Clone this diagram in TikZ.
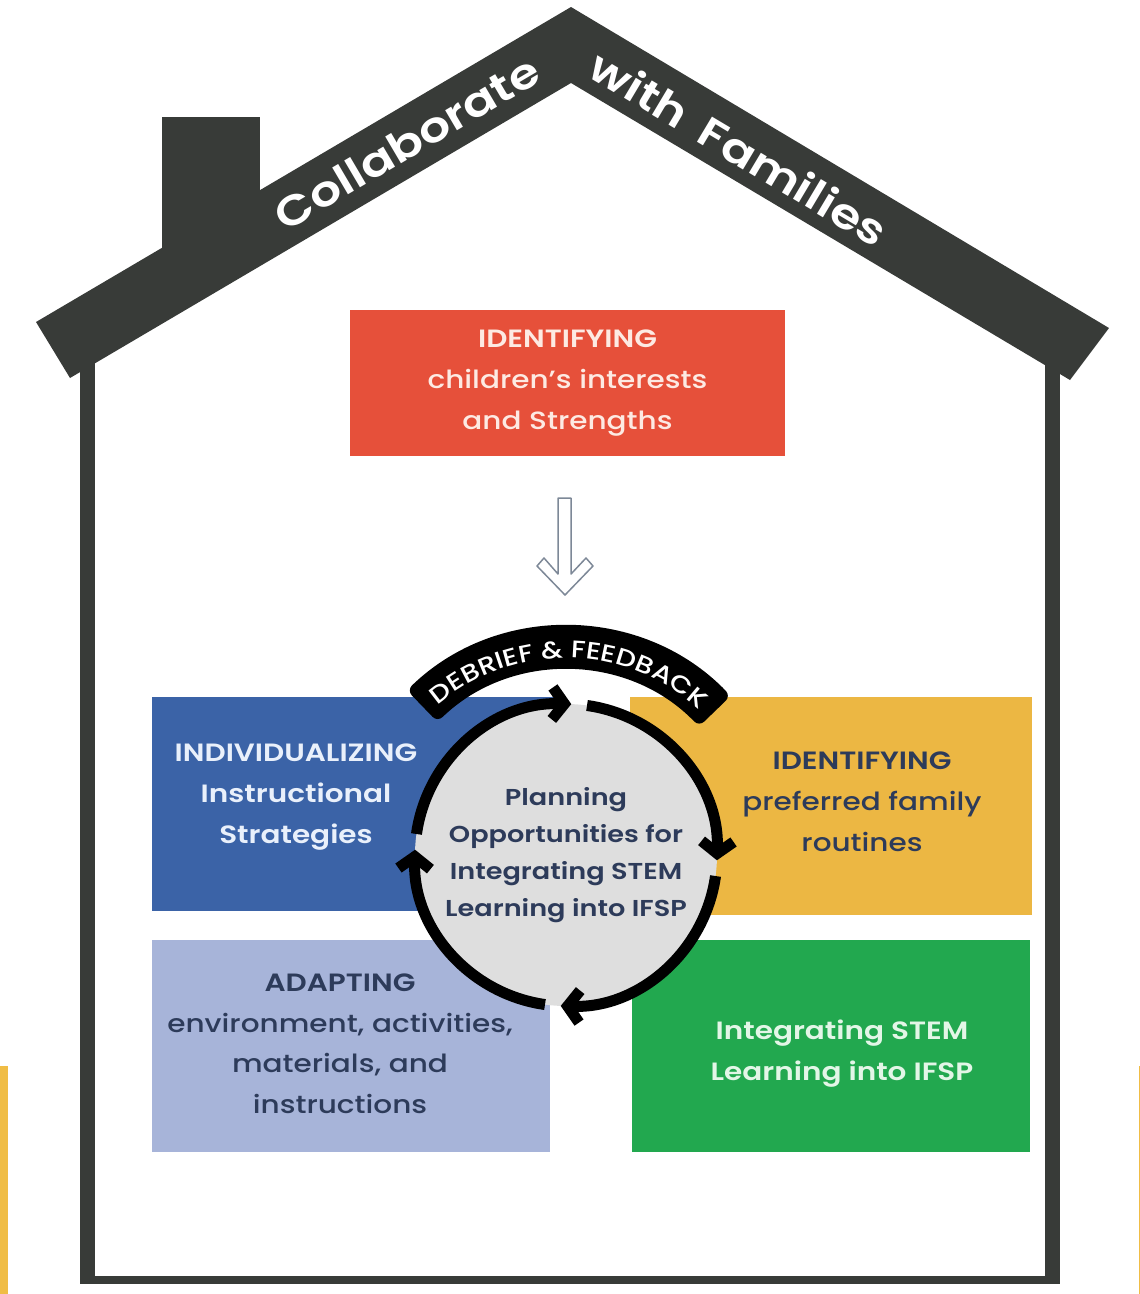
\documentclass[tikz,border=0pt]{standalone}
\usepackage{fontspec}
\setmainfont{Poppins}[UprightFont=* Medium, BoldFont=* SemiBold, FakeStretch=1.18]
\usetikzlibrary{arrows.meta, decorations.text}

\definecolor{roofgray}{HTML}{383B38}
\definecolor{redbox}{HTML}{E6503A}
\definecolor{redtext}{HTML}{FDEAE3}
\definecolor{bluebox}{HTML}{3B63A7}
\definecolor{bluetext}{HTML}{E9F0FB}
\definecolor{yellowbox}{HTML}{ECB743}
\definecolor{lavbox}{HTML}{A7B4D9}
\definecolor{greenbox}{HTML}{22A84F}
\definecolor{greentext}{HTML}{E3F6E7}
\definecolor{navy}{HTML}{2D3B5A}
\definecolor{circgray}{HTML}{DEDEDE}
\definecolor{arrowgray}{HTML}{7D8897}
\definecolor{yellowbar}{HTML}{F0BD45}

\begin{document}
\begin{tikzpicture}[x=1pt, y=-1pt,
		boxtext/.style={align=center, inner sep=0pt, font=\fontsize{25}{41}\selectfont},
		rooftext/.style={text=white, inner sep=0pt, font=\fontsize{42}{42}\selectfont\bfseries},
		ring/.style={line width=11pt, -{Straight Barb[length=12pt, width=32pt]}}]
	\useasboundingbox (0,0) rectangle (1140,1294);
	\fill[yellowbar] (0,1066) rectangle (8,1294);
	\draw[yellowbar, line width=1pt] (1139.5,1066) -- (1139.5,1294);

	\draw[roofgray, line width=15pt] (87,360) -- (87,1283);
	\draw[roofgray, line width=15pt] (1052,360) -- (1052,1283);
	\fill[roofgray] (80,1276) rectangle (1060,1284);

	\fill[roofgray] (162,117) rectangle (260,260);
	\fill[roofgray] (36,322) -- (571,7) -- (1109,328) -- (1070,380) -- (571,83) -- (70,378) -- cycle;
	\node[rooftext, rotate=30.5] (collab) at (407,143) {Collaborate};
	\node[rooftext, rotate=-30.8] (families) at (739,148) {with\hspace{20pt}Families};

	\node[boxtext, fill=redbox, text=redtext, minimum width=435pt, minimum height=146pt] (kids) at (567.5,383) {\textbf{IDENTIFYING}\\children's interests\\and Strengths};
	\draw[arrowgray, fill=white, line width=1.5pt, line join=round] (558,498) -- (571,498) -- (571,574) -- (586,558) -- (593,566) -- (565,595) -- (537,566) -- (544,558) -- (558,574) -- cycle;

	\fill[bluebox] (152,697) rectangle (560,911);
	\fill[yellowbox] (630,697) rectangle (1032,915);
	\fill[lavbox] (152,940) rectangle (550,1152);
	\fill[greenbox] (632,940) rectangle (1030,1152);
	\node[boxtext, text=bluetext, font=\fontsize{25}{41}\selectfont\bfseries] (indiv) at (296,797) {INDIVIDUALIZING\\Instructional\\Strategies};
	\node[boxtext, text=navy] (routines) at (862,802) {\textbf{IDENTIFYING}\\preferred family\\routines};
	\node[boxtext, text=navy, font=\fontsize{25}{40.5}\selectfont] (adapt) at (340,1044) {\textbf{ADAPTING}\\environment, activities,\\materials, and\\instructions};
	\node[boxtext, text=greentext, font=\fontsize{25}{41}\selectfont\bfseries] (stem) at (842,1054) {Integrating STEM\\Learning into IFSP};

	\node[circle, fill=circgray, minimum size=302pt, inner sep=0pt, align=center, text=navy, font=\fontsize{23}{37}\selectfont\bfseries] (plan) at (566,855) {Planning\\Opportunities for\\Integrating STEM\\Learning into IFSP};
	\foreach \a in {-172, -82, 8, 98} {
		\draw[ring] (plan.center) ++(\a:151) arc[start angle=\a, delta angle=84, radius=151];
	}
	\fill[black, rounded corners=7pt] (plan.center) ++(-134:229) arc[start angle=-134, end angle=-44, radius=229]
		-- ++(-44:-44) arc[start angle=-44, end angle=-134, radius=185] -- cycle;
	\path[decorate, decoration={text along path, text align=center, text color=white,
		text={|\fontsize{24}{24}\selectfont|DEBRIEF {\&} FEEDBACK}}]
		(plan.center) ++(-133:197) arc[start angle=-133, end angle=-45, radius=197];
\end{tikzpicture}
\end{document}
